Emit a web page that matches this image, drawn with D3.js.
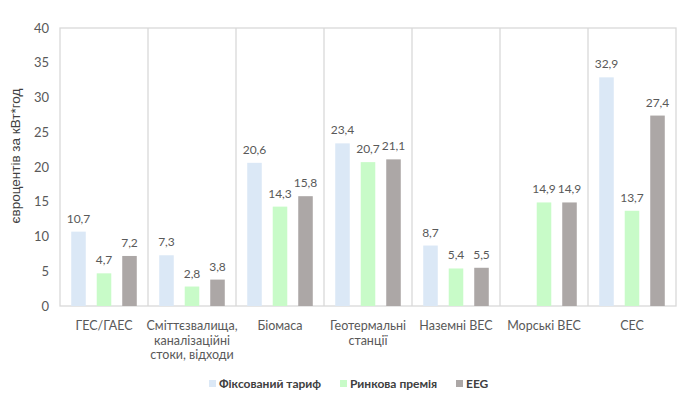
<!DOCTYPE html>
<html><head><meta charset="utf-8">
<script src="https://cdn.jsdelivr.net/npm/d3@7"></script>
<style>body{margin:0;background:#fff}svg{display:block}</style>
</head><body>
<svg id="c" width="690" height="404"></svg>
<script>
const categories = [["ГЕС/ГАЕС"],["Сміттєзвалища,","каналізаційні","стоки, відходи"],["Біомаса"],["Геотермальні","станції"],["Наземні ВЕС"],["Морські ВЕС"],["СЕС"]];
const seriesNames = ["Фіксований тариф","Ринкова премія","EEG"];
const fixedTariff = [10.7, 7.3, 20.6, 23.4, 8.7, null, 32.9];
const marketPremium = [4.7, 2.8, 14.3, 20.7, 5.4, 14.9, 13.7];
const eeg = [7.2, 3.8, 15.8, 21.1, 5.5, 14.9, 27.4];
const yTicks = [0,5,10,15,20,25,30,35,40];
const colors = ["#dbe8f6","#c8fbc8","#aca7a6"];

const series = [fixedTariff, marketPremium, eeg];
const svg = d3.select("#c");
const L=60,R=676,T=28,B=306;
const x0 = d3.scaleBand().domain(d3.range(categories.length)).range([L,R]).padding(0);
const x1 = d3.scaleBand().domain(d3.range(3)).range([0,x0.bandwidth()]).paddingInner(0.43).paddingOuter(0.44);
const y = d3.scaleLinear().domain([0,40]).range([B,T]);
const font = "Lato, 'Open Sans', sans-serif";

// frame
svg.append("rect").attr("x",L).attr("y",T).attr("width",R-L).attr("height",B-T)
  .attr("fill","none").attr("stroke","#d9d9d9").attr("stroke-width",1.3);
// separators
svg.selectAll(".sep").data(d3.range(1,categories.length)).join("line")
  .attr("x1",d=>x0(d)).attr("x2",d=>x0(d)).attr("y1",T).attr("y2",B)
  .attr("stroke","#d9d9d9").attr("stroke-width",1.3);

// y axis labels
const yAxis = svg.append("g").attr("transform",`translate(${L},0)`)
  .call(d3.axisLeft(y).tickValues(yTicks).tickSize(0).tickPadding(11));
yAxis.select(".domain").remove();
yAxis.selectAll("text").attr("font-family",font).attr("font-size",13).attr("fill","#595959");

svg.append("text").attr("transform","translate(20,156) rotate(-90)")
  .attr("text-anchor","middle").attr("font-family","'Liberation Sans', Arial, sans-serif")
  .attr("font-size",13.5).attr("fill","#404040").text("євроцентів за кВт*год");

const fmt = v => String(v).replace(".", ",");
series.forEach((vals,si)=>{
  const g = svg.append("g");
  vals.forEach((v,ci)=>{
    if(v==null) return;
    const bx = x0(ci)+x1(si);
    g.append("rect").attr("x",bx).attr("y",y(v)).attr("width",x1.bandwidth()).attr("height",y(0)-y(v)).attr("fill",colors[si]);
    g.append("text").attr("x",bx+x1.bandwidth()/2).attr("y",y(v)-9).attr("text-anchor","middle")
      .attr("font-family",font).attr("font-size",12).attr("fill","#595959").text(fmt(v));
  });
});

// category labels
categories.forEach((lines,ci)=>{
  const t = svg.append("text").attr("text-anchor","middle").attr("font-family",font)
    .attr("font-size",12.5).attr("fill","#595959");
  lines.forEach((ln,li)=>{
    t.append("tspan").attr("x",x0(ci)+x0.bandwidth()/2).attr("y",330+li*14.5).text(ln);
  });
});

// legend
const legX = [209,340,456];
seriesNames.forEach((n,i)=>{
  svg.append("rect").attr("x",legX[i]).attr("y",380).attr("width",7).attr("height",7).attr("fill",colors[i]);
  svg.append("text").attr("x",legX[i]+10).attr("y",388).attr("font-family",font).attr("font-weight","bold")
    .attr("font-size",12).attr("fill","#404040").text(n);
});
</script>
</body></html>
